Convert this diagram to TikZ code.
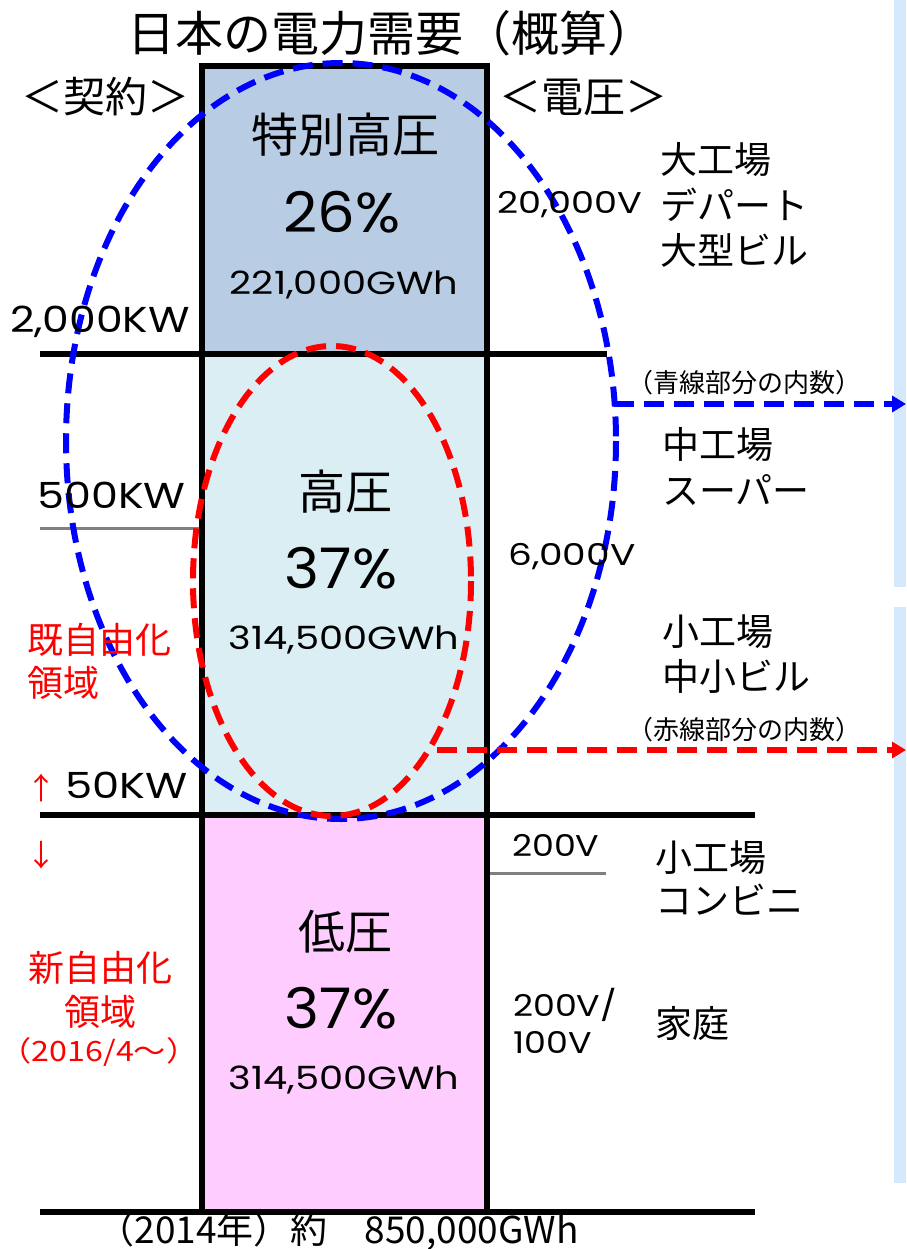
\documentclass[tikz,border=0pt]{standalone}
\usepackage{fontspec}
\setmainfont{Noto Sans CJK JP}
\newfontfamily\jp{Noto Sans CJK JP}
\newfontfamily\num{Poppins}
\usetikzlibrary{arrows.meta}
\newcommand\fsz[1]{\fontsize{#1}{#1}\selectfont}
\newcommand\widen[2]{\scalebox{#1}[1]{#2}}
\definecolor{topfill}{HTML}{B8CCE4}
\definecolor{midfill}{HTML}{DAEEF3}
\definecolor{lowfill}{HTML}{FFCCFF}
\definecolor{panel}{HTML}{D6E8FB}
\definecolor{myblue}{HTML}{0000FF}
\definecolor{myred}{HTML}{FF0000}
\tikzset{
  heavy/.style={line width=5.5pt},
  grayline/.style={line width=3pt, draw=gray},
  dashblue/.style={draw=myblue, line width=6pt, dash pattern=on 20pt off 10pt},
  dashred/.style={draw=myred, line width=6pt, dash pattern=on 20pt off 10pt},
  txt/.style={inner sep=0pt, font=\jp\fsz{#1}},
  ntxt/.style={inner sep=0pt, font=\num\fsz{#1}},
  rtxt/.style={inner sep=0pt, text=myred, font=\jp\fsz{#1}},
}
\begin{document}
\begin{tikzpicture}[x=1pt,y=-1pt]
\useasboundingbox (0,0) rectangle (906,1249);
% right panels
\fill[panel] (894,0) rectangle (906,587);
\fill[panel] (894,607) rectangle (906,1183);
% column fills
\fill[topfill] (202,66) rectangle (487,354);
\fill[midfill] (202,354) rectangle (487,815);
\fill[lowfill] (202,815) rectangle (487,1212);
% gray lines
\draw[grayline] (40,528) -- (202,528);
\draw[grayline] (490,873) -- (606,873);
% black lines
\draw[heavy] (202,66) -- (487,66);
\draw[heavy] (202,63.5) -- (202,1214.5);
\draw[heavy] (487,63.5) -- (487,1214.5);
\draw[heavy] (40,354) -- (607,354);
\draw[heavy] (40,815) -- (755,815);
\draw[heavy] (40,1212) -- (755,1212);
% ellipses
\draw[dashblue] (341,441) ellipse [x radius=275, y radius=378];
\draw[dashred] (332,581) ellipse [x radius=139, y radius=235];
% arrows
\coordinate (bs) at (614,404);
\coordinate (be) at (906,404);
\coordinate (rs) at (437,750);
\coordinate (re) at (906,750);
\draw[dashblue, -{Triangle[length=14pt,width=16pt]}] (bs) -- (be);
\draw[dashred, -{Triangle[length=14pt,width=16pt]}] (rs) -- (re);
% title
\node[txt=48] (title) at (391,33) {日本の電力需要（概算）};
\node[txt=42] (keiyaku) at (105,97) {＜契約＞};
\node[txt=42] (denatsu) at (583,97) {＜電圧＞};
% column texts
\node[txt=47] (t1) at (345,135) {特別高圧};
\node[ntxt=56] (p1) at (342,212) {\widen{1.06}{26\%}};
\node[ntxt=32] (g1) at (344,285) {\widen{1.2}{221,000GWh}};
\node[txt=47] (t2) at (345,492) {高圧};
\node[ntxt=56] (p2) at (341,568) {\widen{1.06}{37\%}};
\node[ntxt=32] (g2) at (344,640) {\widen{1.2}{314,500GWh}};
\node[txt=47] (t3) at (345,932) {低圧};
\node[ntxt=56] (p3) at (341,1008) {\widen{1.06}{37\%}};
\node[ntxt=32] (g3) at (344,1080) {\widen{1.2}{314,500GWh}};
% left labels
\node[ntxt=36, anchor=east] (kw2000) at (190,322) {\widen{1.18}{2,000KW}};
\node[ntxt=36, anchor=east] (kw500) at (186,495) {\widen{1.19}{500KW}};
\node[ntxt=36, anchor=east] (kw50) at (188,785) {\widen{1.2}{50KW}};
\node[rtxt=30] (up) at (42,788) {↑};
\node[rtxt=30] (down) at (42,855) {↓};
\node[rtxt=36, anchor=west] (ki1) at (27,640) {既自由化};
\node[rtxt=36, anchor=west] (ki2) at (27,683) {領域};
\node[rtxt=36] (sh1) at (100,968) {新自由化};
\node[rtxt=36] (sh2) at (100,1012) {領域};
\node[rtxt=28] (sh3) at (99,1052) {\widen{1.15}{（2016/4～）}};
% voltages
\node[ntxt=30, anchor=west] (v1) at (497,205) {\widen{1.22}{20,000V}};
\node[ntxt=30, anchor=west] (v2) at (508,557) {\widen{1.25}{6,000V}};
\node[ntxt=30, anchor=west] (v3) at (512,845) {\widen{1.16}{200V}};
\node[ntxt=30, anchor=west] (v4) at (513,1005) {\widen{1.16}{200V/}};
\node[ntxt=30, anchor=west] (v5) at (513,1042) {\widen{1.16}{100V}};
% users
\node[txt=37, anchor=west] (u1) at (660,160) {大工場};
\node[txt=37, anchor=west] (u2) at (660,205) {デパート};
\node[txt=37, anchor=west] (u3) at (660,250) {大型ビル};
\node[txt=37, anchor=west] (u4) at (662,445) {中工場};
\node[txt=37, anchor=west] (u5) at (662,490) {スーパー};
\node[txt=37, anchor=west] (u6) at (662,632) {小工場};
\node[txt=37, anchor=west] (u7) at (662,676) {中小ビル};
\node[txt=37, anchor=west] (u8) at (655,858) {小工場};
\node[txt=37, anchor=west] (u9) at (655,900) {コンビニ};
\node[txt=37, anchor=west] (u10) at (655,1024) {家庭};
% notes
\node[txt=26] (n1) at (744,383) {（青線部分の内数）};
\node[txt=26] (n2) at (744,730) {（赤線部分の内数）};
% bottom
\node[txt=37] (total) at (338,1231) {（2014年）約　850,000GWh};
\end{tikzpicture}
\end{document}
